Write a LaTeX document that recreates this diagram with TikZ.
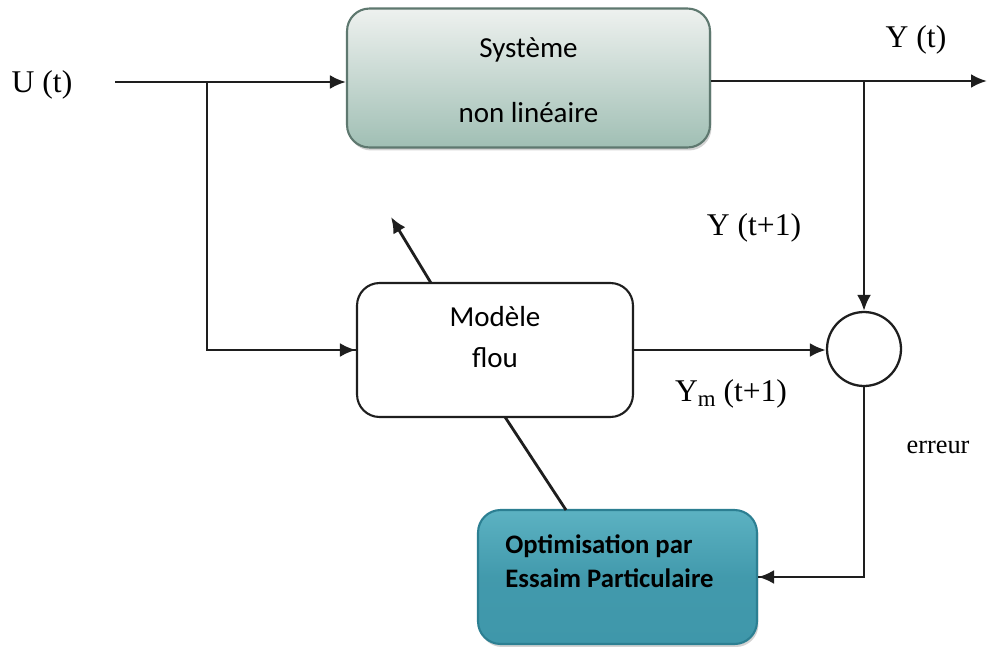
\documentclass[tikz,border=0pt]{standalone}
\usepackage{fontspec}
\setmainfont{Liberation Serif}
\newfontfamily\calfont{Carlito}
\usetikzlibrary{arrows.meta,shadows,calc}
\definecolor{sysTop}{HTML}{EEF1EF}
\definecolor{sysBot}{HTML}{A0BFB4}
\definecolor{sysLine}{HTML}{5E786F}
\definecolor{optTop}{HTML}{5CB2C2}
\definecolor{optBot}{HTML}{3F97AA}
\definecolor{optLine}{HTML}{2C7F92}
\definecolor{ink}{HTML}{1E1E1E}
\begin{document}
\begin{tikzpicture}[x=0.02cm,y=-0.02cm,
  conn/.style={draw=ink,line width=1.6pt},
  arr/.style={conn,-{Latex[length=0.32cm,width=0.28cm]}},
  box/.style={rectangle,rounded corners=0.45cm,line width=1.2pt,inner sep=0pt},
  sysbox/.style={box,draw=sysLine,top color=sysTop,bottom color=sysBot,
     drop shadow={shadow xshift=0.03cm,shadow yshift=-0.06cm,opacity=0.35}},
  modbox/.style={box,draw=ink,fill=white},
  optbox/.style={box,draw=optLine,top color=optTop,bottom color=optBot,middle color=optBot!90!optTop,
     drop shadow={shadow xshift=0.03cm,shadow yshift=-0.06cm,opacity=0.35}},
  btxt/.style={font=\calfont\fontsize{16.5}{20}\selectfont,align=center,inner sep=0pt},
  otxt/.style={font=\calfont\bfseries\fontsize{15.2}{18}\selectfont,align=left,inner sep=0pt,anchor=west},
  lbl/.style={font=\fontsize{18}{22}\selectfont,inner sep=0pt},
  sumc/.style={circle,draw=ink,line width=1.3pt,fill=white,minimum size=1.48cm,inner sep=0pt}]
\useasboundingbox (0,0) rectangle (987,649);
% boxes
\node[sysbox,minimum width=7.26cm,minimum height=2.78cm] (sys) at (528.5,78) {};
\node[btxt] (systxt) at (528.5,80) {Système\\[0.6cm]non linéaire};
\node[modbox,minimum width=5.52cm,minimum height=2.68cm] (mod) at (495,350) {};
\node[btxt] (modtxt) at (495,337) {Modèle\\[0.1cm]flou};
\node[optbox,minimum width=5.58cm,minimum height=2.68cm] (opt) at (617.5,577) {};
\node[otxt] (opttxt) at (505,561) {Optimisation par\\[0.04cm]Essaim Particulaire};
\node[sumc] (sum) at (864,349) {};
% labels
\node[lbl] (ut) at (42,85) {U (t)};
\node[lbl] (yt) at (916,40) {Y (t)};
\node[lbl] (yt1) at (754,228) {Y (t+1)};
\node[lbl] (ymt1) at (731,394) {Y{\raisebox{-0.35ex}{\fontsize{13}{13}\selectfont m}} (t+1)};
\node[font=\fontsize{15}{18}\selectfont,inner sep=0pt] (err) at (938,447) {erreur};
% coordinates
\coordinate (uin) at (115,82);
\coordinate (b1) at (207,82);
\coordinate (yend) at (987,81);
\coordinate (b2) at (864,81);
\coordinate (d1) at (566,510);
\coordinate (d2) at (505,417);
\coordinate (a1) at (431,283);
\coordinate (a2) at (391,217);
% connectors
\draw[arr] (uin) -- (uin -| sys.west);
\draw[conn] (b1) |- (mod.west);
\draw[arr] (b1 |- mod.west) -- (mod.west);
\draw[arr] (sys.east |- yend) -- (yend);
\draw[arr] (b2) -- (sum.north);
\draw[arr] (mod.east) -- (mod.east -| sum.west);
\draw[conn] (sum.south) |- (opt.east);
\draw[arr] (sum.south |- opt.east) -- (opt.east);
\draw[conn] (d1) -- (d2);
\draw[arr] (a1) -- (a2);
\end{tikzpicture}
\end{document}
